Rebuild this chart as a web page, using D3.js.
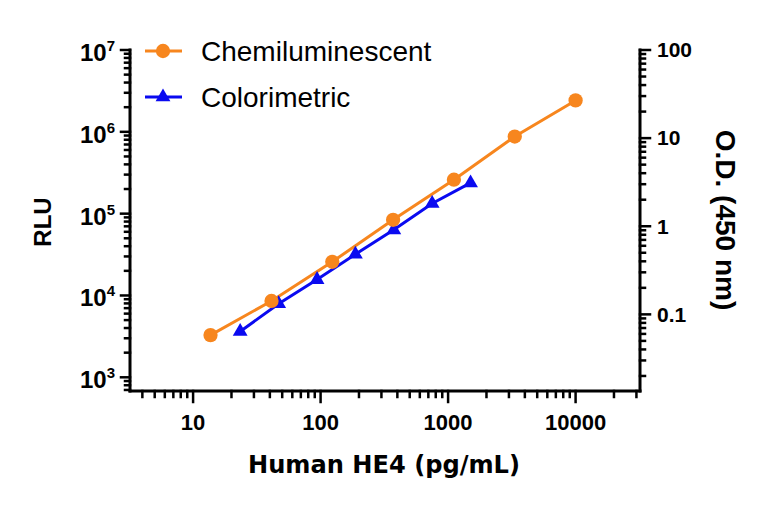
<!DOCTYPE html>
<html>
<head>
<meta charset="utf-8">
<script src="https://cdn.jsdelivr.net/npm/d3@7"></script>
<style>
  body { margin: 0; background: #fff; }
  svg { display: block; }
  text { font-family: "Liberation Sans", Arial, sans-serif; fill: #000; }
</style>
</head>
<body>
<div id="chart"></div>
<script>
// Data
const chemiConc = [13.7, 41.2, 123.5, 370.4, 1111, 3333, 10000];
const chemiRLU = [3280, 8570, 25800, 84100, 260000, 875000, 2420000];
const colorConc = [23.4, 46.9, 93.8, 187.5, 375, 750, 1500];
const colorOD = [0.064, 0.132, 0.248, 0.48, 0.91, 1.81, 3.1];

const xTickLabels = ["10", "100", "1000", "10000"];
const leftExponents = [3, 4, 5, 6, 7];
const rightTickLabels = ["0.1", "1", "10", "100"];
const seriesNames = ["Chemiluminescent", "Colorimetric"];

const width = 768, height = 509;
const orange = "#F7861E", blue = "#0A0AF0";

const svg = d3.select("#chart").append("svg")
    .attr("width", width)
    .attr("height", height);

// Scales
const x = d3.scaleLog().domain([3.2, 32000]).range([130, 640]);
const yL = d3.scaleLog().domain([680, 1e7]).range([391, 50]);
const yR = d3.scaleLog().domain([0.0135, 100]).range([391, 50]);

// minor + major tick values inside a log domain
function logTicks(scale) {
    const [a, b] = scale.domain();
    const out = [];
    for (let e = Math.floor(Math.log10(a)); e <= Math.ceil(Math.log10(b)); e++) {
        for (let m = 1; m <= 9; m++) {
            const v = m * Math.pow(10, e);
            if (v >= a * 0.999 && v <= b * 1.001) out.push({ v, major: m === 1 });
        }
    }
    return out;
}

const axisG = svg.append("g").attr("stroke", "#000").attr("stroke-linecap", "square");

// Axis lines
axisG.append("line").attr("x1", 130).attr("x2", 130).attr("y1", 50).attr("y2", 391).attr("stroke-width", 3);
axisG.append("line").attr("x1", 640).attr("x2", 640).attr("y1", 50).attr("y2", 391).attr("stroke-width", 3);
axisG.append("line").attr("x1", 130).attr("x2", 640).attr("y1", 391).attr("y2", 391).attr("stroke-width", 3);

// Left ticks
axisG.selectAll(".lt").data(logTicks(yL)).enter().append("line")
    .attr("x1", 130).attr("x2", d => d.major ? 121 : 125)
    .attr("y1", d => yL(d.v)).attr("y2", d => yL(d.v))
    .attr("stroke-width", 2.5);

// Right ticks
axisG.selectAll(".rt").data(logTicks(yR)).enter().append("line")
    .attr("x1", 640).attr("x2", d => d.major ? 650 : 645)
    .attr("y1", d => yR(d.v)).attr("y2", d => yR(d.v))
    .attr("stroke-width", 2.5);

// Bottom ticks
axisG.selectAll(".bt").data(logTicks(x)).enter().append("line")
    .attr("y1", 391).attr("y2", d => d.major ? 402 : 397)
    .attr("x1", d => x(d.v)).attr("x2", d => x(d.v))
    .attr("stroke-width", 2.5);

// Bottom tick labels
svg.selectAll(".xl").data(xTickLabels).enter().append("text")
    .attr("x", d => x(+d))
    .attr("y", 430)
    .attr("text-anchor", "middle")
    .attr("font-size", 22)
    .attr("font-weight", "bold")
    .text(d => d);

// Left tick labels: 10 with superscript exponent
leftExponents.forEach(e => {
    const yy = yL(Math.pow(10, e));
    const t = svg.append("text")
        .attr("x", 115)
        .attr("y", yy + 11)
        .attr("text-anchor", "end")
        .attr("font-weight", "bold");
    t.append("tspan").attr("font-size", 24).text("10");
    t.append("tspan").attr("font-size", 15).attr("dy", -10).text(e);
});

// Right tick labels
svg.selectAll(".rl").data(rightTickLabels).enter().append("text")
    .attr("x", 657)
    .attr("y", d => yR(+d))
    .attr("dy", "0.35em")
    .attr("font-size", 21)
    .attr("font-weight", "bold")
    .text(d => d);

// Axis titles
svg.append("text")
    .attr("transform", "translate(51,222) rotate(-90)")
    .attr("text-anchor", "middle")
    .attr("font-size", 24)
    .attr("font-weight", "bold")
    .text("RLU");

svg.append("text")
    .attr("transform", "translate(716,220) rotate(90)")
    .attr("text-anchor", "middle")
    .attr("font-size", 28)
    .attr("font-weight", "bold")
    .text("O.D. (450 nm)");

svg.append("text")
    .attr("x", 384)
    .attr("y", 473)
    .attr("text-anchor", "middle")
    .attr("font-size", 25)
    .attr("font-weight", "bold")
    .attr("textLength", 272)
    .attr("lengthAdjust", "spacingAndGlyphs")
    .style("font-family", "'Century Gothic', 'DejaVu Sans', sans-serif")
    .text("Human HE4 (pg/mL)");

// Lines
const chemi = chemiConc.map((c, i) => ({ x: c, y: chemiRLU[i] }));
const color = colorConc.map((c, i) => ({ x: c, y: colorOD[i] }));

svg.append("path").datum(color)
    .attr("fill", "none").attr("stroke", blue).attr("stroke-width", 3)
    .attr("d", d3.line().x(d => x(d.x)).y(d => yR(d.y)));

svg.append("path").datum(chemi)
    .attr("fill", "none").attr("stroke", orange).attr("stroke-width", 3)
    .attr("d", d3.line().x(d => x(d.x)).y(d => yL(d.y)));

// Markers
const tri = d3.symbol().type(d3.symbolTriangle).size(95);
const circ = d3.symbol().type(d3.symbolCircle).size(160);

svg.selectAll(".tri").data(color).enter().append("path")
    .attr("d", tri)
    .attr("fill", blue)
    .attr("transform", d => `translate(${x(d.x)},${yR(d.y)})`);

svg.selectAll(".circ").data(chemi).enter().append("path")
    .attr("d", circ)
    .attr("fill", orange)
    .attr("transform", d => `translate(${x(d.x)},${yL(d.y)})`);

// Legend
const legend = svg.append("g");
const legendY = [51, 97];
const legendColors = [orange, blue];
const legendSymbols = [circ, tri];
seriesNames.forEach((name, i) => {
    legend.append("line")
        .attr("x1", 145).attr("x2", 182)
        .attr("y1", legendY[i]).attr("y2", legendY[i])
        .attr("stroke", legendColors[i]).attr("stroke-width", 3);
    legend.append("path")
        .attr("d", legendSymbols[i])
        .attr("fill", legendColors[i])
        .attr("transform", `translate(163,${legendY[i]})`);
    legend.append("text")
        .attr("x", 201)
        .attr("y", legendY[i] + 10)
        .attr("font-size", 28)
        .text(name);
});
</script>
</body>
</html>
